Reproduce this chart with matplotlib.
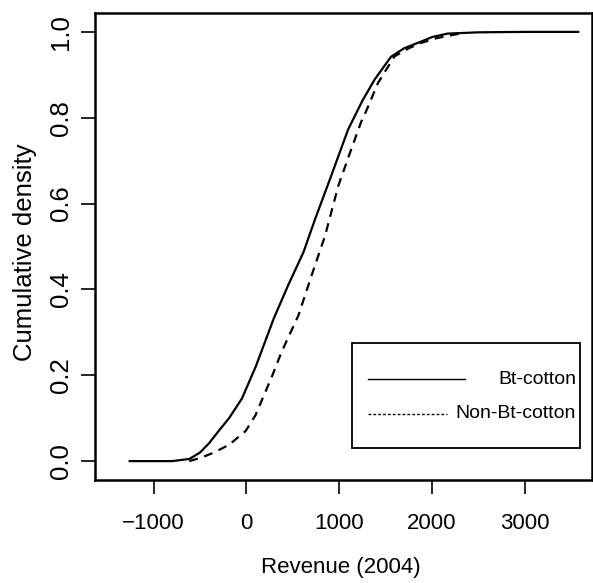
import matplotlib
matplotlib.use("Agg")
import matplotlib.pyplot as plt
from matplotlib.lines import Line2D
from matplotlib.patches import Rectangle

plt.rcParams['font.family'] = ['Liberation Sans', 'DejaVu Sans']

bt_x = [-1257, -800, -615, -500, -401, -300, -187, -48, 100, 294, 450, 615, 740, 900, 1096, 1250, 1381, 1557, 1700, 1877, 2000, 2166, 2500, 3000, 3574]
bt_y = [0.0, 0.0, 0.005, 0.02, 0.042, 0.07, 0.10, 0.146, 0.22, 0.332, 0.41, 0.487, 0.564, 0.657, 0.773, 0.84, 0.889, 0.942, 0.962, 0.977, 0.988, 0.996, 0.999, 1.0, 1.0]

non_x = [-615, -476, -350, -187, -9, 98, 166, 280, 380, 561, 701, 847, 989, 1128, 1235, 1275, 1417, 1595, 1750, 1877, 2059, 2300]
non_y = [0.0, 0.009, 0.02, 0.038, 0.07, 0.107, 0.142, 0.20, 0.255, 0.34, 0.432, 0.525, 0.641, 0.726, 0.790, 0.808, 0.881, 0.943, 0.962, 0.974, 0.986, 0.996]

x_ticks = [-1000, 0, 1000, 2000, 3000]
y_ticks = [0.0, 0.2, 0.4, 0.6, 0.8, 1.0]
series_names = ["Bt-cotton", "Non-Bt-cotton"]

W, H = 593, 583
L, R, T, B = 95, 591.8, 13, 480

fig = plt.figure(figsize=(W/100, H/100), dpi=100)
ax = fig.add_axes([L/W, 1-B/H, (R-L)/W, (B-T)/H])

ax.plot(bt_x, bt_y, color='black', lw=1.6, ls='-')
ax.plot(non_x, non_y, color='black', lw=1.6, ls=(0, (4, 3)))

ax.set_xlim(-1631, 3720)
ax.set_ylim(-0.044, 1.044)
ax.set_xticks(x_ticks)
ax.set_xticklabels([("\u2212" + str(abs(v))) if v < 0 else str(v) for v in x_ticks])
ax.set_yticks(y_ticks)
ax.set_yticklabels([f"{v:.1f}" for v in y_ticks], rotation=90, va='center')
ax.tick_params(direction='out', length=10, width=1.2, labelsize=16)
ax.tick_params(axis='x', pad=14)
ax.tick_params(axis='y', pad=6, labelsize=18.5)
for s in ax.spines.values():
    s.set_linewidth(1.8)

ax.set_xlabel("Revenue (2004)", fontsize=16, va='center')
ax.set_ylabel("Cumulative density", fontsize=18.5, va='center')
ax.xaxis.set_label_coords(((341 - L) / (R - L)), (B - 567) / (B - T))
ax.yaxis.set_label_coords((25 - L) / (R - L), (B - 252) / (B - T))

# legend box (axes coordinates)
def axx(px):
    return (px - L) / (R - L)
def axy(py):
    return (B - py) / (B - T)

ax.add_patch(Rectangle((axx(352), axy(448)), axx(580) - axx(352), axy(343) - axy(448),
                       transform=ax.transAxes, fill=False, lw=1.3, ec='black'))
ax.add_line(Line2D([axx(368), axx(465)], [axy(379), axy(379)], transform=ax.transAxes,
                   color='black', lw=1.0, ls='-'))
ax.add_line(Line2D([axx(368), axx(447)], [axy(414), axy(414)], transform=ax.transAxes,
                   color='black', lw=1.0, ls=(0, (2, 1.5))))
ax.text(axx(576), axy(379), series_names[0], transform=ax.transAxes, ha='right', va='center', fontsize=14)
ax.text(axx(576), axy(414), series_names[1], transform=ax.transAxes, ha='right', va='center', fontsize=14)

fig.savefig("out.png", dpi=100)
